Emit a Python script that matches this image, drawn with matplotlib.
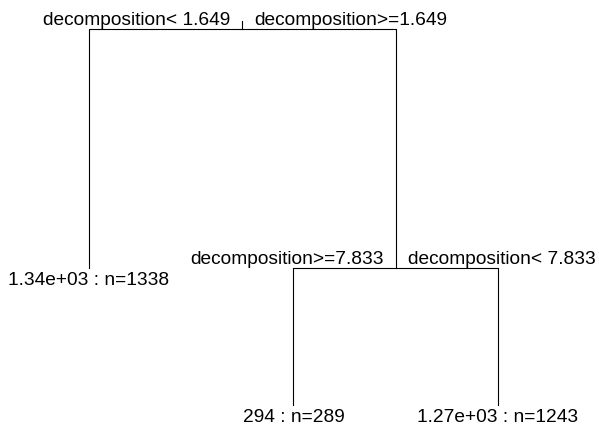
import matplotlib.pyplot as plt

# albero rpart: nodi interni e foglie
split_var = "decomposition"
split_left = ["< 1.649", ">=7.833"]
split_right = [">=1.649", "< 7.833"]
split_gain = [1.0, 0.573]  # riduzione relativa di devianza

leaf_yval = ["1.34e+03", "294", "1.27e+03"]
leaf_n = [1338, 289, 1243]

plt.rcParams['font.family'] = ['Liberation Sans', 'DejaVu Sans']

fig = plt.figure(figsize=(5.99, 4.30), dpi=100)
ax = fig.add_axes([0, 0, 1, 1])
ax.set_xlim(0.5648, 3.494)
ax.set_ylim(1.678, -0.1213)
ax.axis('off')

# layout: foglie a 1,2,3; nodo interno = media dei figli
leaf_x = [1, 2, 3]
node2_x = (leaf_x[1] + leaf_x[2]) / 2
root_x = (leaf_x[0] + node2_x) / 2
root_y = 0
node2_y = root_y + split_gain[0]
leaf_y = [node2_y, node2_y + split_gain[1], node2_y + split_gain[1]]

lw = 0.8
# radice
ax.plot([root_x, root_x], [root_y - 0.035, root_y], color='black', lw=lw)
ax.plot([leaf_x[0], leaf_x[0], node2_x, node2_x],
        [leaf_y[0], root_y, root_y, node2_y], color='black', lw=lw)
# secondo split
ax.plot([leaf_x[1], leaf_x[1], leaf_x[2], leaf_x[2]],
        [leaf_y[1], node2_y, node2_y, leaf_y[2]], color='black', lw=lw)

fs = 13.8
nodes = [(root_x, root_y), (node2_x, node2_y)]
for i, (x, y) in enumerate(nodes):
    ax.annotate(split_var + split_left[i], (x, y), xytext=(-8.5, 3),
                textcoords='offset points', ha='right', va='baseline', fontsize=fs)
    ax.annotate(split_var + split_right[i], (x, y), xytext=(8.5, 3),
                textcoords='offset points', ha='left', va='baseline', fontsize=fs)

for x, y, v, n in zip(leaf_x, leaf_y, leaf_yval, leaf_n):
    ax.annotate(f"{v} : n={n}", (x, y), xytext=(0, -12.5),
                textcoords='offset points', ha='center', va='baseline', fontsize=fs)

fig.savefig('out.png', dpi=100, facecolor='white')
